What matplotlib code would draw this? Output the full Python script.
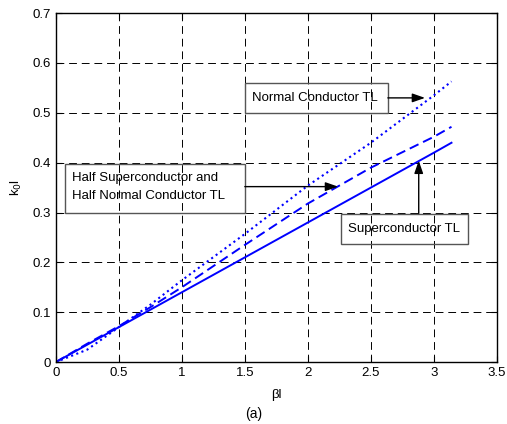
import numpy as np
import matplotlib.pyplot as plt
from matplotlib.patches import Rectangle

# values
bl = [0, 0.25, 0.5, 0.75, 1.0, 1.5, 2.0, 2.5, 3.0, 3.14]
k_sc = [0, 0.035, 0.07, 0.105, 0.14, 0.21, 0.28, 0.35, 0.42, 0.44]
k_half = [0, 0.037, 0.072, 0.11, 0.15, 0.235, 0.318, 0.39, 0.452, 0.472]
k_nc = [0, 0.025, 0.07, 0.115, 0.164, 0.257, 0.354, 0.44, 0.535, 0.563]

xticks = [0, 0.5, 1, 1.5, 2, 2.5, 3, 3.5]
yticks = [0, 0.1, 0.2, 0.3, 0.4, 0.5, 0.6, 0.7]

plt.rcParams['font.family'] = ['Liberation Sans', 'DejaVu Sans']
plt.rcParams['font.size'] = 9.5

fig = plt.figure(figsize=(5.07, 4.24), dpi=100)
ax = fig.add_axes([0.110, 0.146, 0.870, 0.823])

ax.plot(bl, k_sc, '-', color='#0000ff', lw=1.4)
ax.plot(bl, k_half, '--', color='#0000ff', lw=1.4, dashes=(5, 2.6))
ax.plot(bl, k_nc, ':', color='#0000ff', lw=1.5)

ax.set_xlim(0, 3.5)
ax.set_ylim(0, 0.7)
ax.set_xticks(xticks)
ax.set_yticks(yticks)
ax.set_xticklabels(['0', '0.5', '1', '1.5', '2', '2.5', '3', '3.5'])
ax.set_yticklabels(['0', '0.1', '0.2', '0.3', '0.4', '0.5', '0.6', '0.7'])
ax.tick_params(direction='in', top=True, right=True, length=4, color='black')
ax.grid(True, color='black', linestyle=(0, (8, 5)), lw=0.7)
for s in ax.spines.values():
    s.set_linewidth(1.0)

ax.set_xlabel('βl', labelpad=7)
ax.set_ylabel('k$_0$l', labelpad=6)

# text boxes (x0, y0, w, h) in data units, no fill so the grid shows through
def tbox(x0, y0, w, h):
    ax.add_patch(Rectangle((x0, y0), w, h, fc='none', ec='#555555', lw=1, zorder=5))

arr = dict(arrowstyle='-|>,head_length=0.8,head_width=0.28', color='black', lw=1.0,
           shrinkA=0, shrinkB=0)

tbox(1.5, 0.50, 1.135, 0.06)
ax.text(1.556, 0.53, 'Normal Conductor TL', ha='left', va='center', zorder=6)
ax.annotate('', xy=(2.93, 0.53), xytext=(2.635, 0.53), arrowprops=arr, zorder=6)

tbox(0.071, 0.30, 1.429, 0.098)
ax.text(0.127, 0.352, 'Half Superconductor and\nHalf Normal Conductor TL', ha='left',
        va='center', linespacing=1.65, zorder=6)
ax.annotate('', xy=(2.24, 0.352), xytext=(1.5, 0.352), arrowprops=arr, zorder=6)

tbox(2.262, 0.236, 1.008, 0.062)
ax.text(2.317, 0.267, 'Superconductor TL', ha='left', va='center', zorder=6)
ax.annotate('', xy=(2.88, 0.404), xytext=(2.88, 0.298), arrowprops=arr, zorder=6)

fig.text(0.5, 0.008, '(a)', ha='center', va='bottom', fontsize=10)

fig.savefig('out.png', dpi=100)
